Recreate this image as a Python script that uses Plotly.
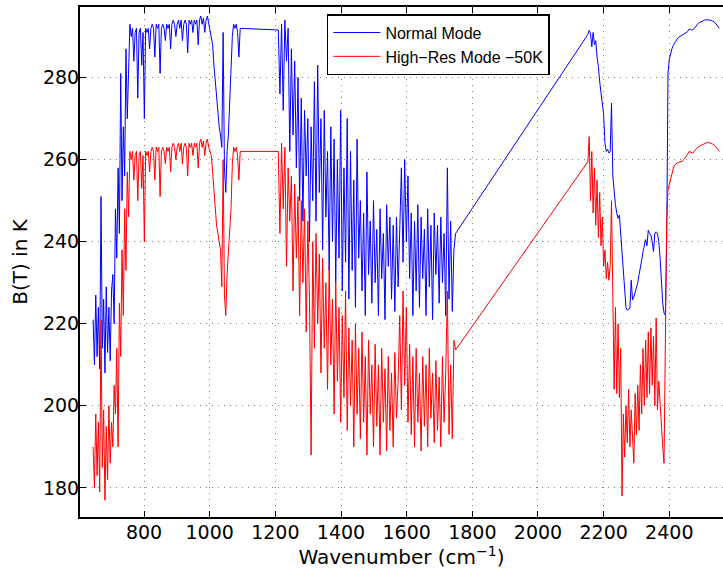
import numpy as np
import plotly.graph_objects as go

# ---- wavenumber sampling grids of the three spectral windows (cm^-1) ----
wn_band1 = list(range(645, 1094, 4))      # 645 ... 1093
wn_band2 = list(range(1209, 1750, 5))     # 1209 ... 1749
wn_band3 = list(range(2152, 2553, 4))     # 2152 ... 2552

# ---- Normal Mode brightness temperature (K) ----
normal_band1 = [221, 210, 227, 212, 224, 209, 251, 214, 226, 208, 229, 213, 224, 211, 228,
                232, 220, 248, 236, 258, 242, 281, 250, 268, 256, 287, 270, 284, 293,
                290, 292, 284, 291, 292, 275, 291, 292, 283, 291,
                270, 292, 291, 292, 287, 292, 293, 292, 285, 293,
                292, 293, 281, 292, 293, 292, 289, 293, 292, 293,
                287, 293, 294, 293, 290, 293, 294, 292, 294, 289,
                293, 294, 293, 286, 294, 293, 294, 291, 294, 293,
                294, 288, 294, 295, 293, 294.5, 291, 294, 295, 293,
                292,
                290, 288, 283, 279, 274, 271, 268, 266, 263, 291, 258, 252, 262, 266, 275,
                284, 290, 293, 292, 293, 291, 285, 292]
normal_band2 = [291.6, 276, 293, 272, 294, 284, 292, 262, 287, 266, 284, 258, 280, 250, 275,
                245, 272, 256, 270, 240, 268, 250, 279, 245, 283, 252, 270, 238, 272, 246,
                262, 233, 268, 240, 265, 230, 260, 236, 272, 228, 258, 235, 270, 226, 262,
                233, 255, 224, 265, 236, 250, 228, 247, 222, 257, 232, 245, 225, 250, 230,
                243, 222, 248, 231, 242, 221, 249, 234, 246, 226, 244, 223, 246, 229, 243,
                258, 235, 260, 240, 256, 231, 247, 222, 245, 228, 249, 224, 246, 231, 243,
                222, 248, 229, 244, 221, 247, 232, 244, 225, 246, 230, 242, 222, 258, 226,
                245, 223, 238, 242]
normal_band3 = [290.5, 291.5, 290.8, 287.5, 291, 288, 289, 285, 282.7, 279, 276, 274, 271, 264, 262,
                262.5, 261.6, 262, 273.8, 256, 252, 249, 247, 245.7, 246.5, 242, 236, 231, 227, 224,
                223.3, 223.5, 223.8, 230.6, 225.8, 226.5, 227.5, 228.5, 230, 232, 233.5, 235.5, 237.6, 239, 240.5,
                239, 242.8, 242, 241.6, 240, 237.6, 242.1, 242.4, 242, 240, 236, 230, 225, 222.6, 222.1,
                238.8, 281, 284.5, 286, 287, 287.8, 288.4, 289, 289.4, 289.8, 290, 290.2, 290.4, 290.6, 290.8,
                291, 291.2, 291.8, 291.8, 291.6, 291.6, 292, 292.5, 292.9, 293.2, 293.4, 293.6, 293.7, 293.9, 294,
                294.1, 294.1, 294.1, 294, 293.9, 293.8, 293.6, 293.3, 293, 292.5, 292]

# ---- High-Res Mode (-50K) brightness temperature (K) ----
highres_band1 = [190, 180, 198, 183, 196, 179, 221, 185, 199, 177, 195, 182, 200, 186, 196,
                 190, 205, 198, 214, 190, 225, 212, 238, 222, 248, 233, 257, 246, 262,
                 260, 262, 255, 261, 262, 250, 261, 262, 253, 261,
                 240, 262, 261, 262, 257, 262, 263, 262, 255, 263,
                 262, 263, 251, 262, 263, 262, 259, 263, 262, 263,
                 257, 263, 264, 263, 260, 263, 264, 262, 264, 259,
                 263, 264, 263, 256, 264, 263, 264, 261, 264, 263,
                 264, 258, 264, 265, 263, 264.5, 261, 264, 265, 263,
                 262,
                 261, 257, 252, 248, 244, 242, 240, 238, 229, 260, 227, 222, 232, 238, 242,
                 248, 259, 263, 262, 263, 261, 255, 262]
highres_band2 = [262, 242, 264, 248, 263, 234, 258, 245, 256, 228, 254, 236, 251, 222, 250,
                 230, 248, 218, 245, 226, 188, 240, 214, 242, 220, 237, 208, 236, 214, 230,
                 204, 234, 210, 226, 198, 230, 206, 224, 196, 222, 202, 228, 194, 219, 200,
                 216, 190, 220, 198, 214, 192, 218, 196, 212, 188, 216, 198, 210, 190, 215,
                 195, 210, 188, 214, 196, 209, 189, 212, 194, 208, 190, 213, 197, 206, 222,
                 199, 228, 205, 224, 196, 215, 193, 212, 190, 214, 196, 208, 189, 212, 195,
                 210, 190, 214, 197, 208, 191, 211, 194, 207, 190, 212, 196, 208, 228, 193,
                 210, 192, 216, 213.6]
highres_band3 = [259.5, 265.6, 250, 262, 247, 258, 244, 255, 241, 252, 239, 246, 234, 238, 231,
                 235, 230.6, 234, 250, 226.5, 204, 224, 203, 220, 202, 214, 178, 198, 187.5, 200,
                 191, 204, 190, 199, 192, 186, 203, 193, 205, 194, 210, 198, 214, 200, 216,
                 202, 218, 203, 219, 205, 217, 200, 221.4, 199, 206, 199.7, 194.8, 190, 186, 210,
                 245, 252.6, 254, 255.7, 256.7, 257.8, 258.7, 259, 259.2, 259.3, 259.4, 259.4, 259.6, 260, 260.4,
                 260.7, 261.3, 262, 261.8, 261.6, 261.6, 262, 262.5, 262.8, 263, 263.3, 263.5, 263.6, 263.8, 264,
                 264.1, 264.2, 264.2, 264.1, 264, 263.8, 263.6, 263.3, 263, 262.5, 262]

x_ticks = [800, 1000, 1200, 1400, 1600, 1800, 2000, 2200, 2400]
y_ticks = [180, 200, 220, 240, 260, 280]

wn = wn_band1 + wn_band2 + wn_band3
normal = normal_band1 + normal_band2 + normal_band3
highres = highres_band1 + highres_band2 + highres_band3

fig = go.Figure()
fig.add_trace(go.Scatter(x=wn, y=normal, mode="lines", name="Normal Mode",
                         line=dict(color="#0000ff", width=1)))
fig.add_trace(go.Scatter(x=wn, y=highres, mode="lines", name="High\u2212Res Mode \u221250K",
                         line=dict(color="#ff0000", width=1)))

tick_font = dict(family="DejaVu Sans", size=19, color="black")
grid_style = dict(showgrid=True, gridcolor="#808080", gridwidth=1, griddash="1px,5px")

fig.update_layout(
    width=723, height=577,
    margin=dict(l=80, r=0, t=7, b=60, autoexpand=False),
    paper_bgcolor="white", plot_bgcolor="white",
    xaxis=dict(range=[605, 2563.6], tickvals=x_ticks, ticks="inside", ticklen=6,
               tickcolor="black", tickwidth=1, showline=True, linecolor="black",
               linewidth=2, mirror="ticks", zeroline=False, tickfont=tick_font,
               automargin=False, ticklabelstandoff=-3,
               title=dict(text="Wavenumber (cm<sup>\u22121</sup>)",
                          font=dict(family="DejaVu Sans", size=20, color="black"),
                          standoff=2),
               **grid_style),
    yaxis=dict(range=[172.9, 297.2], tickvals=y_ticks, ticks="inside", ticklen=6,
               tickcolor="black", tickwidth=1, showline=True, linecolor="black",
               linewidth=2, zeroline=False, tickfont=tick_font,
               automargin=False, ticklabelstandoff=-5,
               title=dict(text="B(T) in K",
                          font=dict(family="DejaVu Sans", size=20, color="black"),
                          standoff=10),
               **grid_style),
    yaxis2=dict(range=[172.9, 297.2], tickvals=y_ticks, ticks="inside", ticklen=6,
                tickcolor="black", tickwidth=1, overlaying="y", side="right",
                showticklabels=False, showgrid=False, showline=False, zeroline=False,
                automargin=False),
    legend=dict(x=0.384, y=0.986, xanchor="left", yanchor="top",
                bgcolor="white", bordercolor="black", borderwidth=1.5,
                font=dict(family="Liberation Sans", size=16, color="black"),
                itemwidth=47, tracegroupgap=0),
    showlegend=True,
)

fig.write_html("out.html",
               config={"displayModeBar": False},
               post_script="document.body.style.margin='0';document.body.style.overflow='hidden';")
